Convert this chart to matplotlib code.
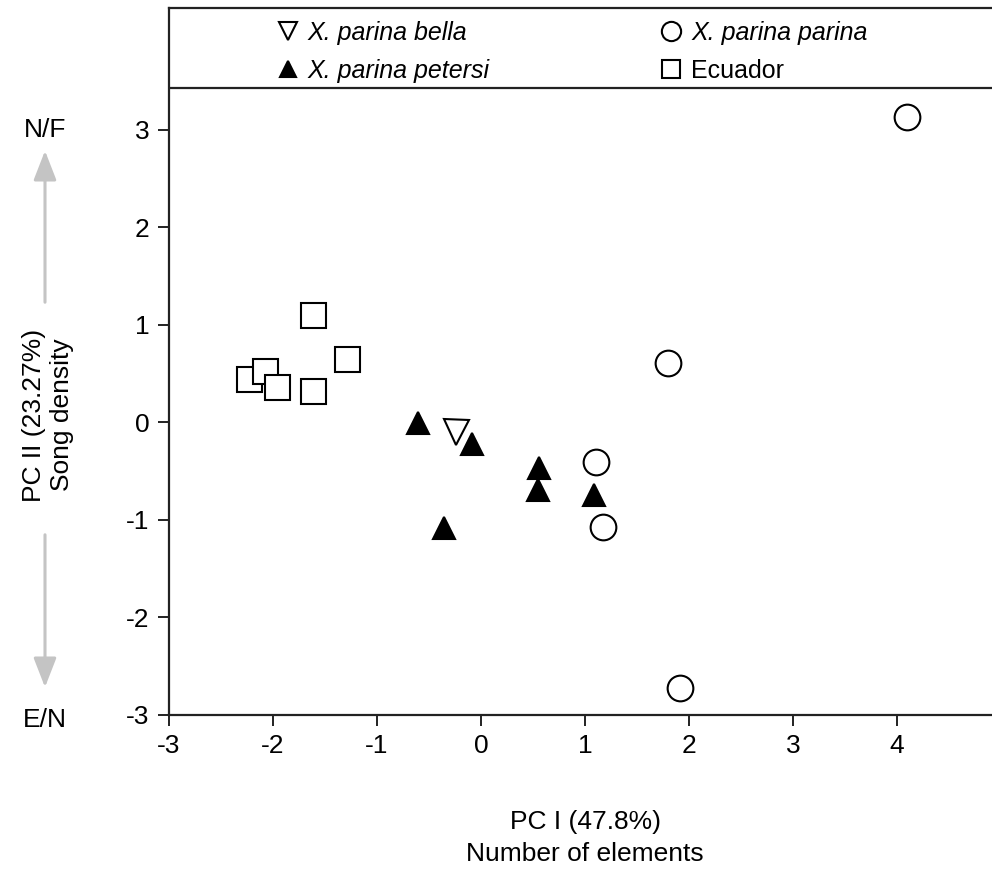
import matplotlib
matplotlib.use('Agg')
import matplotlib.pyplot as plt

plt.rcParams['font.family'] = ['Liberation Sans', 'DejaVu Sans']
plt.rcParams['axes.unicode_minus'] = False

# PCA scores
bella_x = [-0.24]
bella_y = [-0.10]

petersi_x = [-0.61, -0.09, 0.56, 0.55, 1.09, -0.36]
petersi_y = [-0.01, -0.22, -0.47, -0.69, -0.74, -1.08]

parina_x = [4.10, 1.80, 1.11, 1.17, 1.91]
parina_y = [3.13, 0.61, -0.41, -1.07, -2.72]

ecuador_x = [-1.62, -1.29, -2.23, -2.08, -1.96, -1.62]
ecuador_y = [1.10, 0.65, 0.45, 0.53, 0.36, 0.32]

x_ticks = [-3, -2, -1, 0, 1, 2, 3, 4]
y_ticks = [-3, -2, -1, 0, 1, 2, 3]

W, H = 992, 872
fs = 19
fig = plt.figure(figsize=(W / 100, H / 100), dpi=100)
# axes box in pixels: left 169, bottom 715, top 8, x unit 104 px
ax = fig.add_axes([169 / W, (H - 715) / H, 832 / W, 707 / H])
ax.set_xlim(-3, 5)
ax.set_ylim(-3, 4.25)

mk = dict(ls='none', mec='black', mew=1.5)
ax.plot(bella_x, bella_y, marker='v', ms=18, mfc='white', label='X. parina bella', **mk)
ax.plot(petersi_x, petersi_y, marker='^', ms=16, mfc='black', label='X. parina petersi', **mk)
ax.plot(parina_x, parina_y, marker='o', ms=18.5, mfc='white', label='X. parina parina', **mk)
ax.plot(ecuador_x, ecuador_y, marker='s', ms=18, mfc='white', label='Ecuador', **mk)

ax.axhline(3.43, color='#222222', lw=1.6)

for side in ['left', 'top', 'bottom']:
    ax.spines[side].set_linewidth(1.6)
    ax.spines[side].set_color('#222222')
ax.spines['right'].set_visible(False)

ax.set_xticks(x_ticks)
ax.set_yticks(y_ticks)
ax.tick_params(direction='out', length=8, width=1.4, labelsize=fs, pad=6, color='#222222')

leg = ax.legend(loc='center', bbox_to_anchor=(572 / W, 1 - 52 / H),
                bbox_transform=fig.transFigure, ncol=2, frameon=False,
                markerscale=0.75, handlelength=0.9,
                handletextpad=0.35, columnspacing=6.8, labelspacing=0.55,
                prop={'style': 'italic', 'size': 18})
for t in leg.get_texts():
    if t.get_text() == 'Ecuador':
        t.set_fontstyle('normal')

# x label
fig.text(585 / W, 1 - 838 / H, 'PC I (47.8%)\nNumber of elements',
         ha='center', va='center', fontsize=fs, linespacing=1.4)

# y label between the arrows
fig.text(48 / W, 1 - 415 / H, 'PC II (23.27%)\nSong density', rotation=90,
         ha='center', va='center', fontsize=fs, linespacing=1.2,
         multialignment='center')

arrow = dict(arrowstyle='-|>,head_width=0.35,head_length=0.9', color='#c4c4c4', lw=2.2)
fig.add_artist(matplotlib.patches.FancyArrowPatch(
    (45 / W, 1 - 305 / H), (45 / W, 1 - 148 / H), transform=fig.transFigure,
    mutation_scale=20, **arrow))
fig.add_artist(matplotlib.patches.FancyArrowPatch(
    (45 / W, 1 - 532 / H), (45 / W, 1 - 690 / H), transform=fig.transFigure,
    mutation_scale=20, **arrow))

fig.text(45 / W, 1 - 130 / H, 'N/F', ha='center', va='center', fontsize=fs)
fig.text(45 / W, 1 - 720 / H, 'E/N', ha='center', va='center', fontsize=fs)

fig.savefig('out.png', dpi=100)
